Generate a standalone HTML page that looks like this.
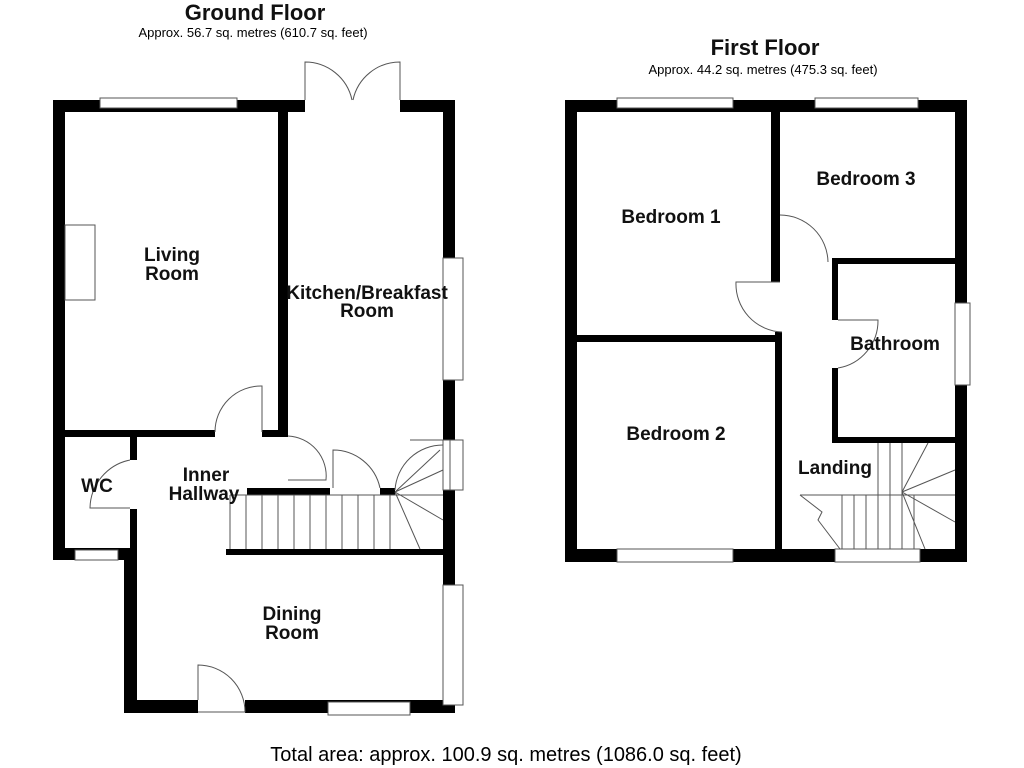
<!DOCTYPE html>
<html><head><meta charset="utf-8"><style>
body{margin:0;background:#fff;}
svg{display:block;font-family:"Liberation Sans",sans-serif;}
.t{font-weight:bold;font-size:19px;text-anchor:middle;fill:#111}
.l{fill:none;stroke:#555;stroke-width:1}
</style></head><body>
<svg width="1024" height="768" viewBox="0 0 1024 768">
<text x="255" y="20" class="t" style="font-size:22px">Ground Floor</text>
<text x="253" y="37" text-anchor="middle" font-size="13">Approx. 56.7 sq. metres (610.7 sq. feet)</text>
<text x="765" y="55" class="t" style="font-size:22px">First Floor</text>
<text x="763" y="74" text-anchor="middle" font-size="13">Approx. 44.2 sq. metres (475.3 sq. feet)</text>
<text x="506" y="761" text-anchor="middle" font-size="20">Total area: approx. 100.9 sq. metres (1086.0 sq. feet)</text>

<g fill="#000">
<rect x="53" y="100" width="12" height="460"/>
<rect x="53" y="100" width="252" height="12"/>
<rect x="400" y="100" width="55" height="12"/>
<rect x="443" y="100" width="12" height="613"/>
<rect x="278" y="112" width="10" height="320"/>
<rect x="65" y="430" width="150" height="7"/>
<rect x="262" y="430" width="26" height="7"/>
<rect x="130" y="434" width="7" height="26"/>
<rect x="130" y="509" width="7" height="45"/>
<rect x="53" y="548" width="84" height="12"/>
<rect x="124" y="548" width="13" height="165"/>
<rect x="124" y="700" width="331" height="13"/>
<rect x="226" y="549" width="229" height="6"/>
<rect x="247" y="488" width="83" height="7"/>
<rect x="380" y="488" width="15" height="7"/>
<rect x="565" y="100" width="402" height="12"/>
<rect x="565" y="100" width="12" height="462"/>
<rect x="955" y="100" width="12" height="462"/>
<rect x="565" y="549" width="402" height="13"/>
<rect x="771" y="112" width="9" height="170"/>
<rect x="577" y="335" width="203" height="7"/>
<rect x="775" y="332" width="7" height="217"/>
<rect x="832" y="258" width="123" height="6"/>
<rect x="832" y="258" width="6" height="62"/>
<rect x="832" y="368" width="6" height="75"/>
<rect x="832" y="437" width="123" height="6"/>
</g>
<g fill="#fff" stroke="#555" stroke-width="1">
<rect x="100" y="98" width="137" height="10"/>
<rect x="443" y="258" width="20" height="122"/>
<rect x="443" y="440" width="20" height="50"/>
<rect x="443" y="585" width="20" height="120"/>
<rect x="75" y="550" width="43" height="10"/>
<rect x="328" y="702" width="82" height="13"/>
<rect x="65" y="225" width="30" height="75"/>
<rect x="617" y="98" width="116" height="10"/>
<rect x="815" y="98" width="103" height="10"/>
<rect x="617" y="549" width="116" height="13"/>
<rect x="835" y="549" width="85" height="13"/>
<rect x="955" y="303" width="15" height="82"/>
</g>
<g fill="#fff"><rect x="198" y="699" width="47" height="16"/></g>
<g class="l">
<path d="M305 100 V62 A48 48 0 0 1 352 100 M400 100 V62 A48 48 0 0 0 353 100"/>
<path d="M262 432 V386 A46 46 0 0 0 215 432"/>
<path d="M288 436 A40 40 0 0 1 326 480 H288"/>
<path d="M333 488 V450 A48 48 0 0 1 380 488"/>
<path d="M130 460 A50 50 0 0 0 90 508 H130"/>
<path d="M198 700 V665 A47 47 0 0 1 245 712 H198"/>
<path d="M410 440 H450 V490 M443 445 A48 48 0 0 0 395 490"/>
<path d="M230 495 H443 M230 495 V549"/>
<path d="M246 495V549M262 495V549M278 495V549M294 495V549M310 495V549M326 495V549M342 495V549M358 495V549M374 495V549M390 495V549"/>
<path d="M395 492 L443 520 M395 492 L420 549 M395 492 L443 470 M395 492 L440 450"/>
<path d="M780 215 A48 48 0 0 1 828 262"/>
<path d="M780 282 H736 A48 48 0 0 0 782 332"/>
<path d="M838 320 H878 A48 48 0 0 1 838 368"/>
<path d="M878 443 V495 M890 443 V495 M902 443 V495 M800 495 H955 M800 495 L822 512 L818 520 L840 549"/>
<path d="M842 495V549M854 495V549M866 495V549M878 495V549M890 495V549M902 495V549M914 495V549"/>
<path d="M902 492 L928 443 M902 492 L955 470 M902 492 L955 522 M902 492 L925 549"/>
</g>
<g class="t">
<text x="172" y="261">Living</text><text x="172" y="280">Room</text>
<text x="367" y="299">Kitchen/Breakfast</text><text x="367" y="317">Room</text>
<text x="97" y="492">WC</text>
<text x="206" y="481">Inner</text><text x="204" y="500">Hallway</text>
<text x="292" y="620">Dining</text><text x="292" y="639">Room</text>
<text x="671" y="223">Bedroom 1</text>
<text x="866" y="185">Bedroom 3</text>
<text x="895" y="350">Bathroom</text>
<text x="676" y="440">Bedroom 2</text>
<text x="835" y="474">Landing</text>
</g>
</svg>
</body></html>
